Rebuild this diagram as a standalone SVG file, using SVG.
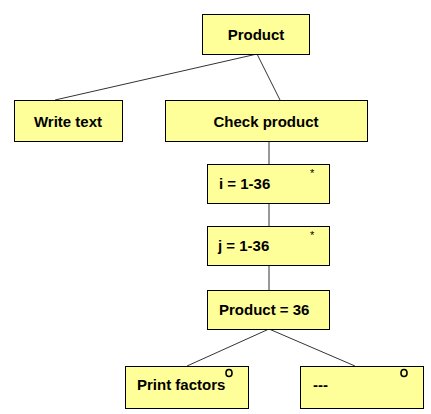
<svg xmlns="http://www.w3.org/2000/svg" width="431" height="414" viewBox="0 0 431 414">
<style>
.box{fill:#ffff99;stroke:#000;stroke-width:1}
.t{font-family:"Liberation Sans",Arial,sans-serif;font-weight:bold;font-size:15px;fill:#000}
.c{text-anchor:middle}
.m{font-family:"Liberation Sans",Arial,sans-serif;font-size:11px;fill:#000}
.o{fill:none;stroke:#000;stroke-width:1.6}
#connectors line{stroke:#333;stroke-width:1}
</style>
<rect width="431" height="414" fill="#fff"/>
<g id="connectors">
<line x1="257" y1="54" x2="55" y2="100"/>
<line x1="257" y1="54" x2="280" y2="100"/>
<line x1="269" y1="141" x2="269" y2="164"/>
<line x1="269" y1="203" x2="269" y2="226"/>
<line x1="269" y1="265" x2="269" y2="290"/>
<line x1="269" y1="329" x2="187" y2="366"/>
<line x1="269" y1="329" x2="355" y2="366"/>
</g>
<g id="product">
<rect class="box" x="202.5" y="14.5" width="107" height="40"/>
<text class="t c" x="256" y="40">Product</text>
</g>
<g id="write-text">
<rect class="box" x="14.5" y="100.5" width="108" height="41"/>
<text class="t c" x="68" y="127">Write text</text>
</g>
<g id="check-product">
<rect class="box" x="165.5" y="100.5" width="202" height="41"/>
<text class="t c" x="266" y="127">Check product</text>
</g>
<g id="loop-i">
<rect class="box" x="207.5" y="164.5" width="122" height="39"/>
<text class="t" x="219" y="189">i = 1-36</text>
<text class="m" x="310" y="177">*</text>
</g>
<g id="loop-j">
<rect class="box" x="207.5" y="226.5" width="122" height="39"/>
<text class="t" x="218" y="251">j = 1-36</text>
<text class="m" x="310" y="239">*</text>
</g>
<g id="condition">
<rect class="box" x="207.5" y="290.5" width="122" height="39"/>
<text class="t" x="219" y="315">Product = 36</text>
</g>
<g id="print-factors">
<rect class="box" x="125.5" y="366.5" width="123" height="42"/>
<text class="t" x="137" y="390">Print factors</text>
<ellipse class="o" cx="229" cy="373" rx="3" ry="3.5"/>
</g>
<g id="empty">
<rect class="box" x="300.5" y="366.5" width="123" height="42"/>
<text class="t" x="313" y="390">---</text>
<ellipse class="o" cx="404" cy="373" rx="3" ry="3.5"/>
</g>
</svg>
